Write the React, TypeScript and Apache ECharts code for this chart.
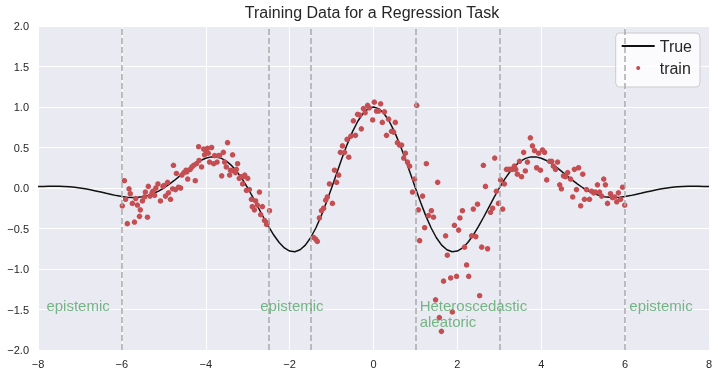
import React, { useEffect, useRef } from "react";
import * as echarts from "echarts";

const trueX = [
  -8, -7.875, -7.75, -7.625, -7.5, -7.375, -7.25, -7.125, -7, -6.875, -6.75, -6.625, -6.5, -6.375, -6.25, -6.125,
  -6, -5.875, -5.75, -5.625, -5.5, -5.375, -5.25, -5.125, -5, -4.875, -4.75, -4.625, -4.5, -4.375, -4.25, -4.125,
  -4, -3.875, -3.75, -3.625, -3.5, -3.375, -3.25, -3.125, -3, -2.875, -2.75, -2.625, -2.5, -2.375, -2.25, -2.125,
  -2, -1.875, -1.75, -1.625, -1.5, -1.375, -1.25, -1.125, -1, -0.875, -0.75, -0.625, -0.5, -0.375, -0.25, -0.125,
  0, 0.125, 0.25, 0.375, 0.5, 0.625, 0.75, 0.875, 1, 1.125, 1.25, 1.375, 1.5, 1.625, 1.75, 1.875,
  2, 2.125, 2.25, 2.375, 2.5, 2.625, 2.75, 2.875, 3, 3.125, 3.25, 3.375, 3.5, 3.625, 3.75, 3.875,
  4, 4.125, 4.25, 4.375, 4.5, 4.625, 4.75, 4.875, 5, 5.125, 5.25, 5.375, 5.5, 5.625, 5.75, 5.875,
  6, 6.125, 6.25, 6.375, 6.5, 6.625, 6.75, 6.875, 7, 7.125, 7.25, 7.375, 7.5, 7.625, 7.75, 7.875, 8,
];
const trueY = [
  0.018, 0.02, 0.022, 0.022, 0.021, 0.019, 0.014, 0.008, 0, -0.01, -0.022, -0.036, -0.05, -0.066, -0.08, -0.094,
  -0.105, -0.113, -0.117, -0.115, -0.107, -0.091, -0.068, -0.038, 0, 0.044, 0.093, 0.146, 0.199, 0.251, 0.299, 0.339,
  0.368, 0.384, 0.384, 0.366, 0.329, 0.273, 0.198, 0.106, 0, -0.116, -0.239, -0.361, -0.478, -0.584, -0.673, -0.74,
  -0.779, -0.787, -0.763, -0.705, -0.614, -0.494, -0.347, -0.18, 0, 0.186, 0.369, 0.542, 0.696, 0.824, 0.92, 0.98,
  1.0, 0.98, 0.92, 0.824, 0.696, 0.542, 0.369, 0.186, 0, -0.18, -0.347, -0.494, -0.614, -0.705, -0.763, -0.787,
  -0.779, -0.74, -0.673, -0.584, -0.478, -0.361, -0.239, -0.116, 0, 0.106, 0.198, 0.273, 0.329, 0.366, 0.384, 0.384,
  0.368, 0.339, 0.299, 0.251, 0.199, 0.146, 0.093, 0.044, 0, -0.038, -0.068, -0.091, -0.107, -0.115, -0.117, -0.113,
  -0.105, -0.094, -0.08, -0.066, -0.05, -0.036, -0.022, -0.01, 0, 0.008, 0.014, 0.019, 0.021, 0.022, 0.022, 0.02, 0.018,
];

const trainX = [
  -5.94, -5.99, -5.83, -5.8, -5.91, -5.87, -5.75, -5.67, -5.63, -5.56, -5.58, -5.7, -5.39, -5.51, -5.46, -5.44,
  -5.37, -5.33, -5.28, -5.22, -5.26, -5.19, -5.14, -5.08, -5.02, -5.0, -4.96, -4.91, -4.89, -4.84, -4.79, -4.77,
  -4.72, -4.7, -4.65, -4.6, -4.57, -4.52, -4.47, -4.43, -4.45, -4.37, -4.33, -4.29, -4.25, -4.22, -4.17, -4.16,
  -4.1, -4.05, -4.03, -3.98, -3.94, -3.96, -3.86, -3.91, -3.81, -3.79, -3.73, -3.7, -3.67, -3.62, -3.58, -3.48,
  -3.55, -3.51, -3.43, -3.41, -3.36, -3.34, -3.29, -3.24, -3.27, -3.2, -3.16, -3.11, -3.07, -3.0, -3.12, -3.03,
  -2.96, -2.72, -2.91, -2.89, -2.81, -2.84, -2.77, -2.69, -2.65, -2.6, -2.55, -2.53, -2.48,
  -1.43, -1.38, -1.34, -1.29, -1.24, -1.19, -1.14, -1.1, -0.98, -1.05, -0.93, -0.88, -0.83, -0.79, -0.74, -0.69,
  -0.59, -0.63, -0.54, -0.43, -0.48, -0.38, -0.33, -0.29, -0.24,
  -0.2, -0.14, -0.1, -0.02, 0.02, 0.07, 0.12, 0.17, 0.21, 0.26, 0.31, 0.36, 0.43, 0.48, 0.52, 0.57,
  0.62, 0.67, 0.72, 0.76, 0.81, 0.86, 0.98, 0.93, 1.03, 1.07, 1.1,
  1.26, 1.53, 1.17, 1.31, 1.38, 1.43, 1.22, 1.72, 1.76, 1.93, 2.03, 2.06, 1.67, 1.84, 1.98, 1.48,
  1.88, 1.57, 1.62,
  2.12, 2.17, 2.22, 2.27, 2.34, 2.38, 2.44, 2.48, 2.53, 2.58, 2.62, 2.67, 2.72, 2.79, 2.84, 2.89,
  2.93, 2.98, 3.03, 3.08, 3.12,
  3.17, 3.22, 3.27, 3.31, 3.36, 3.39, 3.43, 3.48, 3.53, 3.58, 3.62, 3.67, 3.74, 3.79, 3.84, 3.89,
  3.94, 3.98, 4.03, 4.08, 4.13, 4.2, 4.25, 4.29, 4.34, 4.39, 4.44, 4.48, 4.53,
  4.58, 4.63, 4.7, 4.75, 4.79, 4.84, 4.89, 4.94, 4.99, 5.03, 5.08, 5.15, 5.2, 5.25, 5.29, 5.34,
  5.39, 5.44, 5.49, 5.53, 5.58, 5.65, 5.7, 5.75, 5.8, 5.84, 5.89, 5.94, 5.99,
];
const trainY = [
  0.09, -0.22, -0.01, -0.07, -0.14, -0.44, -0.19, -0.13, -0.21, -0.27, -0.35, -0.42, -0.36, -0.16, -0.11, -0.05,
  0.02, -0.1, -0.06, -0.09, -0.04, 0.0, 0.05, -0.16, 0.02, 0.03, -0.1, 0.07, -0.06, -0.14, -0.01, 0.28,
  -0.02, 0.18, 0.01, 0.0, 0.16, 0.19, 0.22, 0.11, 0.2, 0.23, 0.26, 0.28, 0.09, 0.3, 0.51, 0.34,
  0.26, 0.48, 0.41, 0.44, 0.43, 0.49, 0.5, 0.32, 0.3, 0.4, 0.32, 0.4, 0.4, 0.15, 0.44, 0.56,
  0.32, 0.26, 0.16, 0.22, 0.41, 0.21, 0.19, 0.3, 0.23, 0.12, 0.14, 0.14, 0.16, 0.12, 0.05, -0.03,
  -0.02, -0.05, -0.14, -0.23, -0.16, -0.27, -0.21, -0.33, -0.23, -0.4, -0.45, -0.43, -0.28,
  -0.61, -0.63, -0.66, -0.37, -0.28, -0.25, -0.15, -0.11, -0.19, 0.05, 0.22, 0.07, 0.16, 0.44, 0.52, 0.44,
  0.38, 0.6, 0.64, 0.65, 0.83, 0.91, 0.9, 0.73, 0.98,
  0.93, 1.02, 0.99, 0.84, 1.06, 0.95, 0.95, 1.04, 0.81, 0.94, 0.65, 0.85, 0.7, 0.69, 0.81, 0.56,
  0.53, 0.53, 0.37, 0.43, 0.32, 0.27, 0.11, -0.05, 1.02, -0.27, -0.65,
  0.3, 0.07, -0.1, -0.34, -0.28, -0.36, -0.49, -0.59, -0.83, -0.46, -0.52, -0.37, -1.15, -1.11, -1.09, -1.38,
  -1.53, -1.6, -1.77,
  -0.28, -0.73, -0.95, -1.09, -0.59, -0.26, -0.6, -0.2, -1.33, -0.73, 0.28, 0.02, -0.75, -0.3, -0.25, 0.37,
  -0.04, -0.19, 0.1, -0.26, 0.05,
  0.23, 0.23, 0.23, 0.23, 0.27, 0.23, 0.17, 0.33, 0.14, 0.44, 0.21, 0.32, 0.62, 0.52, 0.46, 0.25,
  0.43, 0.22, 0.47, 0.44, 0.1, 0.33, 0.33, 0.27, 0.23, 0.32, 0.04, -0.01, 0.15,
  0.14, 0.19, 0.11, -0.11, 0.23, -0.02, 0.25, -0.22, 0.17, -0.14, -0.02, -0.14, -0.04, -0.06, -0.05, 0.04,
  -0.05, -0.1, 0.11, 0.04, -0.19, -0.07, -0.12, -0.11, -0.17, -0.06, -0.14, 0.01, -0.21,
];

const boundaries = [-6, -2.5, -1.5, 1, 3, 6];
const annotX = [-7.8, -2.7, 1.1, 6.1];
const annotY = [-1.5, -1.5, -1.5, -1.5];
const annotText = ["epistemic", "epistemic", "Heteroscedastic\naleatoric", "epistemic"];

const FONT = "'Liberation Sans', Arial, 'DejaVu Sans', sans-serif";
const TXT = "#262626";

export default function App() {
  const ref = useRef<HTMLDivElement>(null);
  useEffect(() => {
    const chart = echarts.init(ref.current!, null, { renderer: "svg" });
    const minus = (s: string) => s.replace("-", "\u2212");
    chart.setOption({
      animation: false,
      title: {
        text: "Training Data for a Regression Task",
        left: 372,
        top: 4,
        padding: 0,
        textAlign: "center",
        textStyle: { fontFamily: FONT, fontSize: 16, fontWeight: "normal", color: TXT },
      },
      grid: {
        left: 38,
        right: 9,
        top: 26,
        bottom: 28,
        show: true,
        backgroundColor: "#EAEAF2",
        borderWidth: 0,
      },
      legend: {
        orient: "vertical",
        right: 18,
        top: 33,
        align: "left",
        padding: [4, 8, 10, 5],
        itemWidth: 33,
        itemHeight: 4,
        itemGap: 4,
        itemTextGap: 14,
        backgroundColor: "rgba(255,255,255,0.8)",
        borderColor: "#cccccc",
        borderWidth: 1,
        borderRadius: 4,
        textStyle: { fontFamily: FONT, fontSize: 16, color: TXT, lineHeight: 18 },
        data: [
          { name: "True", itemStyle: { opacity: 0 } },
          { name: "train", icon: "circle" },
        ],
      },
      xAxis: {
        type: "value",
        min: -8,
        max: 8,
        interval: 2,
        axisLine: { show: false },
        axisTick: { show: false },
        splitLine: { show: true, lineStyle: { color: "#ffffff", width: 1 } },
        axisLabel: {
          margin: 8,
          fontFamily: FONT,
          fontSize: 11,
          color: TXT,
          formatter: (v: number) => minus(String(v)),
        },
      },
      yAxis: {
        type: "value",
        min: -2,
        max: 2,
        interval: 0.5,
        axisLine: { show: false },
        axisTick: { show: false },
        splitLine: { show: true, lineStyle: { color: "#ffffff", width: 1 } },
        axisLabel: {
          margin: 9,
          fontFamily: FONT,
          fontSize: 11,
          color: TXT,
          formatter: (v: number) => minus(v.toFixed(1)),
        },
      },
      series: [
        {
          name: "True",
          type: "line",
          data: trueX.map((x, i) => [x, trueY[i]]),
          symbol: "none",
          smooth: false,
          lineStyle: { color: "#111111", width: 1.5 },
          itemStyle: { color: "#111111" },
          z: 3,
          markLine: {
            silent: true,
            symbol: ["none", "none"],
            label: { show: false },
            lineStyle: { color: "#aaaaaa", type: [6, 3], width: 1.5 },
            data: boundaries.map((b) => ({ xAxis: b })),
          },
        },
        {
          name: "train",
          type: "scatter",
          data: trainX.map((x, i) => [x, trainY[i]]),
          symbol: "circle",
          symbolSize: 5.5,
          itemStyle: { color: "#C44E52", opacity: 1 },
          z: 4,
        },
        {
          name: "annotations",
          type: "scatter",
          data: annotX.map((x, i) => [x, annotY[i], annotText[i]]),
          symbolSize: 0.01,
          itemStyle: { color: "rgba(0,0,0,0)" },
          silent: true,
          z: 5,
          label: {
            show: true,
            position: [0, 0],
            align: "left",
            verticalAlign: "top",
            offset: [0, -12],
            fontFamily: FONT,
            fontSize: 15,
            lineHeight: 16,
            color: "#55A868",
            formatter: (p: any) => p.value[2],
          },
        },
      ],
    });
    return () => chart.dispose();
  }, []);
  return (
    <div
      ref={ref}
      style={{ position: "fixed", left: 0, top: 0, width: 718, height: 378 }}
    />
  );
}
